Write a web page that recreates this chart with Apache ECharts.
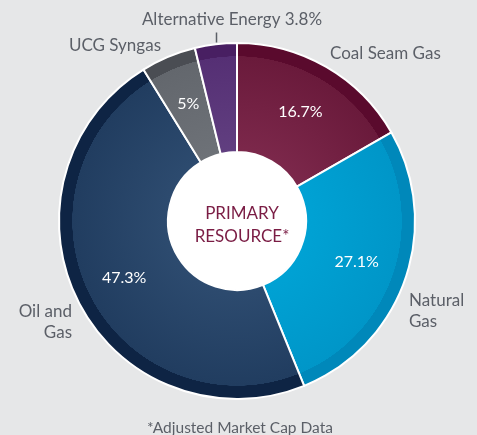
<!DOCTYPE html>
<html>
<head>
<meta charset="utf-8">
<script src="https://cdn.jsdelivr.net/npm/echarts@6/dist/echarts.min.js"></script>
<style>
  html, body { margin: 0; padding: 0; background: #e6e7e8; }
  #chart { width: 477px; height: 435px; }
</style>
</head>
<body>
<div id="chart"></div>
<script>
// 数据
const names = ['Coal Seam Gas', 'Natural Gas', 'Oil and Gas', 'UCG Syngas', 'Alternative Energy'];
const values = [16.7, 27.1, 47.3, 5, 3.8];
const outerLabels = ['Coal Seam Gas', 'Natural\nGas', 'Oil and\nGas', 'UCG Syngas', 'Alternative Energy 3.8%\n{tick|}{gap|}'];
const innerLabels = ['16.7%', '27.1%', '47.3%', '5%', ''];

// 颜色：[靠圆心, 外侧, 外圈深色]
const palette = [
    ['#7c284b', '#6a1a3b', '#5a0a2d'],
    ['#00a2d4', '#0096c8', '#0088ba'],
    ['#2d4b6f', '#213d60', '#0e2444'],
    ['#6e7278', '#63676d', '#4a4d53'],
    ['#613f80', '#552f74', '#481f62']
];

// 外部标签位置
const labelSpots = [
    { x: 330, y: 54, align: 'left' },
    { x: 409, y: 311, align: 'left' },
    { x: 72, y: 322, align: 'right' },
    { x: 161, y: 46, align: 'right' },
    { x: 232, y: 27, align: 'center' }
];

const CX = 237, CY = 221, R = 178;

function sliceColor(c) {
    return {
        type: 'radial', x: CX, y: CY, r: R, global: true,
        colorStops: [
            { offset: 0.38, color: c[0] },
            { offset: 0.925, color: c[1] },
            { offset: 0.926, color: c[2] },
            { offset: 1, color: c[2] }
        ]
    };
}

const chart = echarts.init(document.getElementById('chart'));
const font = 'Lato, "Open Sans", sans-serif';

chart.setOption({
    backgroundColor: '#e6e7e8',
    animation: false,
    title: [{
        text: 'PRIMARY\nRESOURCE*',
        left: CX, top: 220, textAlign: 'center', textVerticalAlign: 'middle',
        textStyle: { color: '#7a1c44', fontSize: 17, fontWeight: 'normal', fontFamily: font, lineHeight: 23 }
    }, {
        text: '*Adjusted Market Cap Data',
        left: 235, top: 415, textAlign: 'center',
        textStyle: { color: '#5b5f67', fontSize: 15.5, fontWeight: 'normal', fontFamily: font }
    }],
    series: [{
        type: 'pie',
        silent: true,
        center: [CX, CY],
        radius: [0, 69],
        label: { show: false },
        itemStyle: { color: '#ffffff' },
        data: [1],
        z: 1
    }, {
        type: 'pie',
        center: [CX, CY],
        radius: [69, R],
        startAngle: 90,
        clockwise: true,
        silent: true,
        itemStyle: { borderColor: '#ffffff', borderWidth: 2 },
        label: {
            show: true, position: 'inside', color: '#ffffff', fontSize: 16, fontFamily: font,
            formatter: p => innerLabels[p.dataIndex]
        },
        labelLine: { show: false },
        data: names.map((n, i) => ({ name: n, value: values[i], itemStyle: { color: sliceColor(palette[i]) } })),
        z: 2
    }, {
        type: 'pie',
        center: [CX, CY],
        radius: [69, R],
        startAngle: 90,
        clockwise: true,
        silent: true,
        itemStyle: { color: 'rgba(0,0,0,0)', borderWidth: 0 },
        label: {
            show: true, position: 'outside', color: '#5b5f67', fontSize: 17, fontFamily: font, lineHeight: 21,
            overflow: 'none', width: 300,
            formatter: p => outerLabels[p.dataIndex],
            rich: {
                // Alternative Energy 下方的小竖线
                tick: { width: 1.5, height: 10, lineHeight: 14, backgroundColor: '#5b5f67' },
                gap: { width: 31, height: 10, lineHeight: 14 }
            }
        },
        labelLine: { show: false },
        labelLayout: p => Object.assign({ verticalAlign: 'middle' }, labelSpots[p.dataIndex]),
        data: names.map((n, i) => ({ name: n, value: values[i] })),
        z: 3
    }]
});
</script>
</body>
</html>
